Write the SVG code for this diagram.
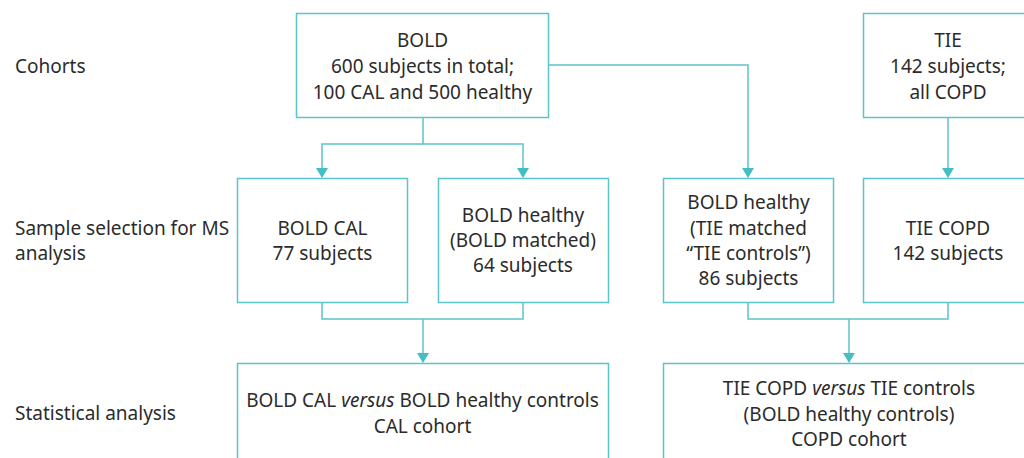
<svg xmlns="http://www.w3.org/2000/svg" width="1024" height="458" viewBox="0 0 1024 458">
<defs>
<style>
.box{fill:#fff;stroke:#5cc4cb;stroke-width:1.5}
.ln{fill:none;stroke:#5cc4cb;stroke-width:1.5}
.ah{fill:#45bdc5}
text{font-family:"Noto Sans","Open Sans",sans-serif;font-size:19px;fill:#2b2b2b}
.c{text-anchor:middle}
</style>
</defs>
<rect width="1024" height="458" fill="#fff"/>
<g id="labels">
<text x="15" y="73">Cohorts</text>
<text x="15" y="235">Sample selection for MS</text>
<text x="15" y="260">analysis</text>
<text x="15" y="420">Statistical analysis</text>
</g>
<g id="connectors">
<path class="ln" d="M548,65 H748 V168"/>
<path class="ln" d="M948,117 V168"/>
<path class="ln" d="M423,117 V144 H322 V168"/>
<path class="ln" d="M423,144 H523 V168"/>
<path class="ln" d="M322,302 V319 H523 V302"/>
<path class="ln" d="M423,319 V353"/>
<path class="ln" d="M748,302 V319 H948 V302"/>
<path class="ln" d="M849,319 V353"/>
<path class="ah" d="M742,168 H754 L748,178 Z"/>
<path class="ah" d="M942,168 H954 L948,178 Z"/>
<path class="ah" d="M316,168 H328 L322,178 Z"/>
<path class="ah" d="M517,168 H529 L523,178 Z"/>
<path class="ah" d="M417,353 H429 L423,363 Z"/>
<path class="ah" d="M843,353 H855 L849,363 Z"/>
</g>
<g id="bold">
<rect class="box" x="296.5" y="13.5" width="252" height="104"/>
<text class="c" x="422.5" y="47">BOLD</text>
<text class="c" x="422.5" y="73">600 subjects in total;</text>
<text class="c" x="422.5" y="99">100 CAL and 500 healthy</text>
</g>
<g id="tie">
<rect class="box" x="863.5" y="13.5" width="170" height="104"/>
<text class="c" x="948" y="47">TIE</text>
<text class="c" x="948" y="73">142 subjects;</text>
<text class="c" x="948" y="99">all COPD</text>
</g>
<g id="bold-cal">
<rect class="box" x="237.5" y="178.5" width="170" height="124"/>
<text class="c" x="322.5" y="235">BOLD CAL</text>
<text class="c" x="322.5" y="260">77 subjects</text>
</g>
<g id="bold-healthy">
<rect class="box" x="438.5" y="178.5" width="170" height="124"/>
<text class="c" x="523" y="222">BOLD healthy</text>
<text class="c" x="523" y="247">(BOLD matched)</text>
<text class="c" x="523" y="272">64 subjects</text>
</g>
<g id="bold-healthy-tie">
<rect class="box" x="663.5" y="178.5" width="170" height="124"/>
<text class="c" x="748.5" y="209">BOLD healthy</text>
<text class="c" x="748.5" y="234.5">(TIE matched</text>
<text class="c" x="748.5" y="260">“TIE controls”)</text>
<text class="c" x="748.5" y="285">86 subjects</text>
</g>
<g id="tie-copd">
<rect class="box" x="863.5" y="178.5" width="170" height="124"/>
<text class="c" x="948" y="235">TIE COPD</text>
<text class="c" x="948" y="260">142 subjects</text>
</g>
<g id="cal-analysis">
<rect class="box" x="237.5" y="363.5" width="371" height="110"/>
<text class="c" x="422.5" y="407">BOLD CAL <tspan font-style="italic">versus</tspan> BOLD healthy controls</text>
<text class="c" x="422.5" y="433">CAL cohort</text>
</g>
<g id="copd-analysis">
<rect class="box" x="663.5" y="363.5" width="380" height="110"/>
<text class="c" x="849" y="395">TIE COPD <tspan font-style="italic">versus</tspan> TIE controls</text>
<text class="c" x="849" y="421">(BOLD healthy controls)</text>
<text class="c" x="849" y="446">COPD cohort</text>
</g>
</svg>
